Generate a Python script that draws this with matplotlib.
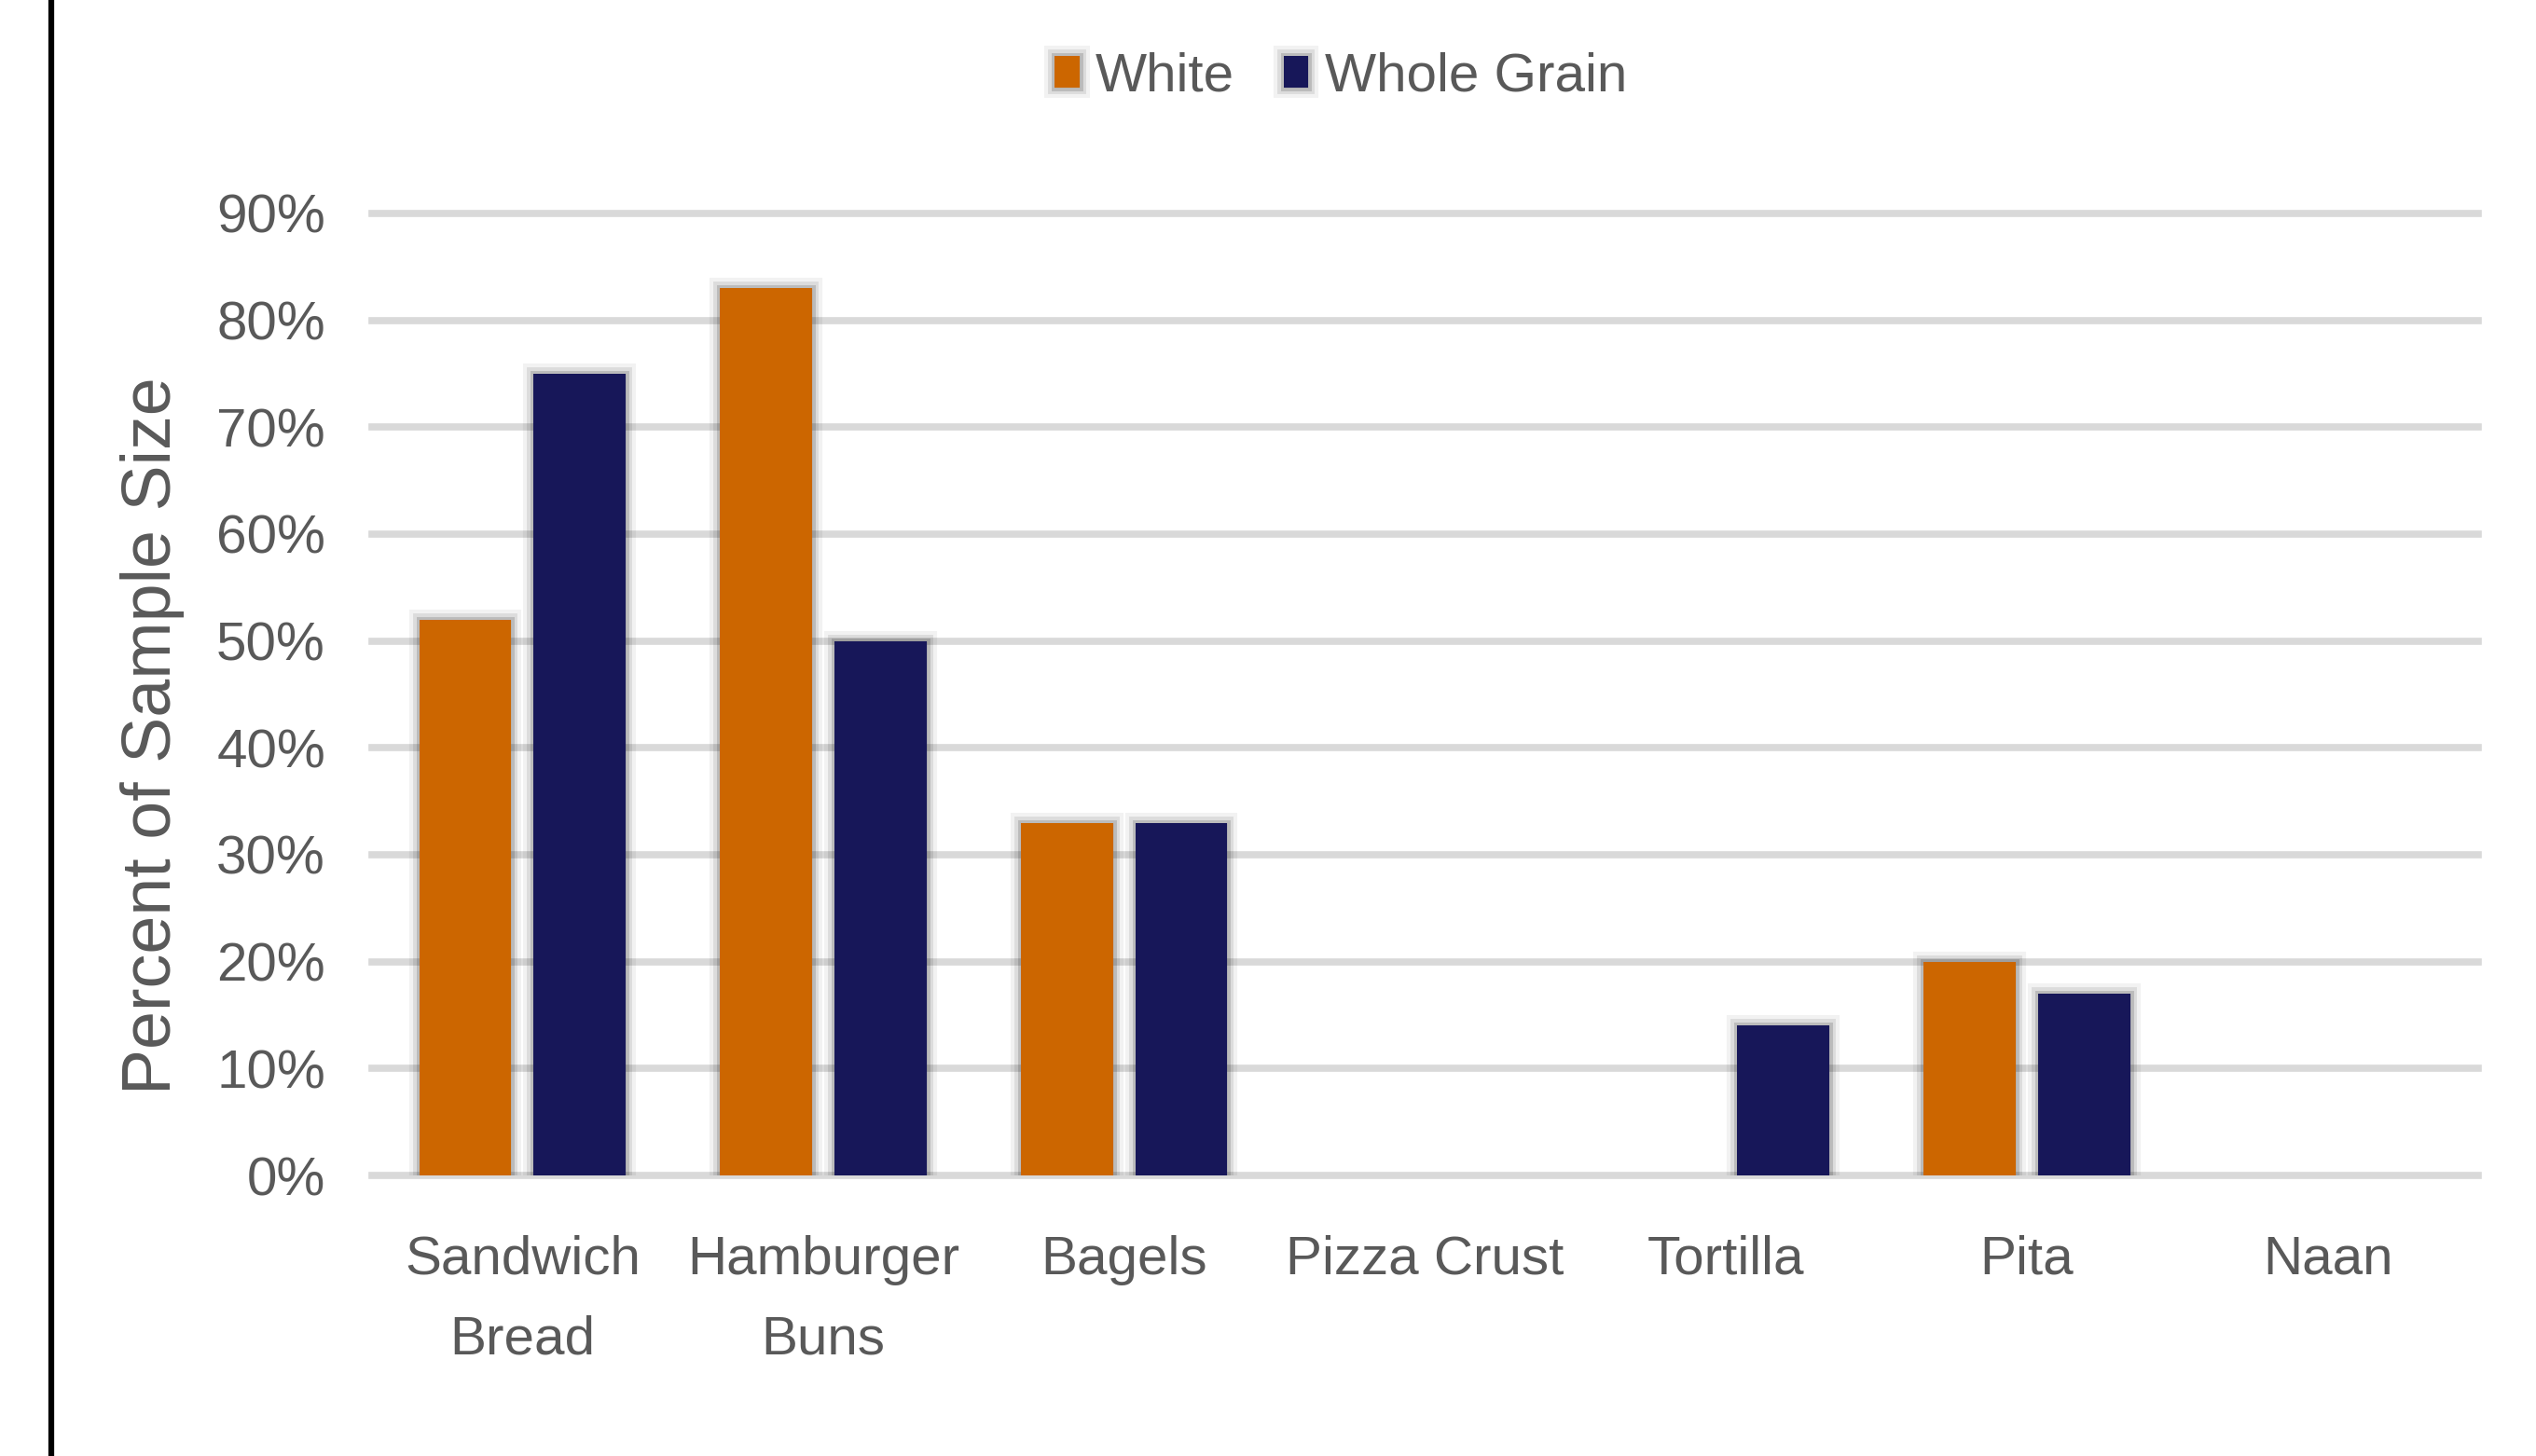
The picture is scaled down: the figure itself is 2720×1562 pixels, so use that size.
import matplotlib
matplotlib.use("Agg")
import matplotlib.pyplot as plt
import matplotlib.patheffects as pe
from matplotlib.lines import Line2D
import numpy as np

# data
categories = ["Sandwich\nBread", "Hamburger\nBuns", "Bagels", "Pizza Crust", "Tortilla", "Pita", "Naan"]
white = [0.52, 0.83, 0.33, 0.0, 0.0, 0.20, 0.0]
whole_grain = [0.75, 0.50, 0.33, 0.0, 0.14, 0.17, 0.0]
yticks = [0, 0.1, 0.2, 0.3, 0.4, 0.5, 0.6, 0.7, 0.8, 0.9]

orange = "#CC6600"
navy = "#171759"
text_col = "#595959"
font = "Liberation Sans"

fig = plt.figure(figsize=(27.2, 15.62), dpi=100)
ax = fig.add_axes([0.1467, 0.1927, 0.9772 - 0.1467, 0.8534 - 0.1927])

x = np.arange(len(categories))
w = 0.306
off = 0.19

# soft shadow round the bars
shadow = [pe.Stroke(linewidth=16, foreground="black", alpha=0.05),
          pe.Stroke(linewidth=10, foreground="black", alpha=0.09),
          pe.Stroke(linewidth=5, foreground="black", alpha=0.15),
          pe.Normal()]

b1 = ax.bar(x - off, white, w, color=orange, label="White", zorder=3)
b2 = ax.bar(x + off, whole_grain, w, color=navy, label="Whole Grain", zorder=3)
for bars, vals in [(b1, white), (b2, whole_grain)]:
    for b, v in zip(bars, vals):
        if v > 0:
            b.set_path_effects(shadow)

ax.set_xlim(-0.5, len(categories) - 0.5)
ax.set_ylim(0, 0.9)
ax.set_yticks(yticks)
ax.set_yticklabels([f"{int(round(t * 100))}%" for t in yticks])
ax.set_xticks(x)
ax.set_xticklabels(categories, fontsize=42, color=text_col, family=font, linespacing=1.75)
for lab in ax.get_yticklabels():
    lab.set_fontsize(42)
    lab.set_color(text_col)
    lab.set_family(font)

ax.tick_params(axis="y", length=0, pad=36)
ax.tick_params(axis="x", length=0, pad=46)
ax.yaxis.grid(True, color="#D9D9D9", linewidth=5.5, zorder=0)
for gl in ax.get_ygridlines():
    gl.set_clip_on(False)
ax.set_axisbelow(True)
for s in ax.spines.values():
    s.set_visible(False)

ax.set_ylabel("Percent of Sample Size", fontsize=53, color=text_col, family=font)
ax.yaxis.set_label_coords(-0.089, 0.457)

fig.legend(handles=[b1, b2], loc="center", bbox_to_anchor=(0.5287, 0.947), ncol=2,
           frameon=False, prop={"family": font, "size": 42}, labelcolor=text_col,
           handlelength=0.45, handleheight=0.5, handletextpad=0.3, columnspacing=0.9)

# black border line on the left
fig.add_artist(Line2D([55 / 2720, 55 / 2720], [0, 1], transform=fig.transFigure, color="black", lw=4.5))

fig.savefig("out.png", dpi=100, facecolor="white")
